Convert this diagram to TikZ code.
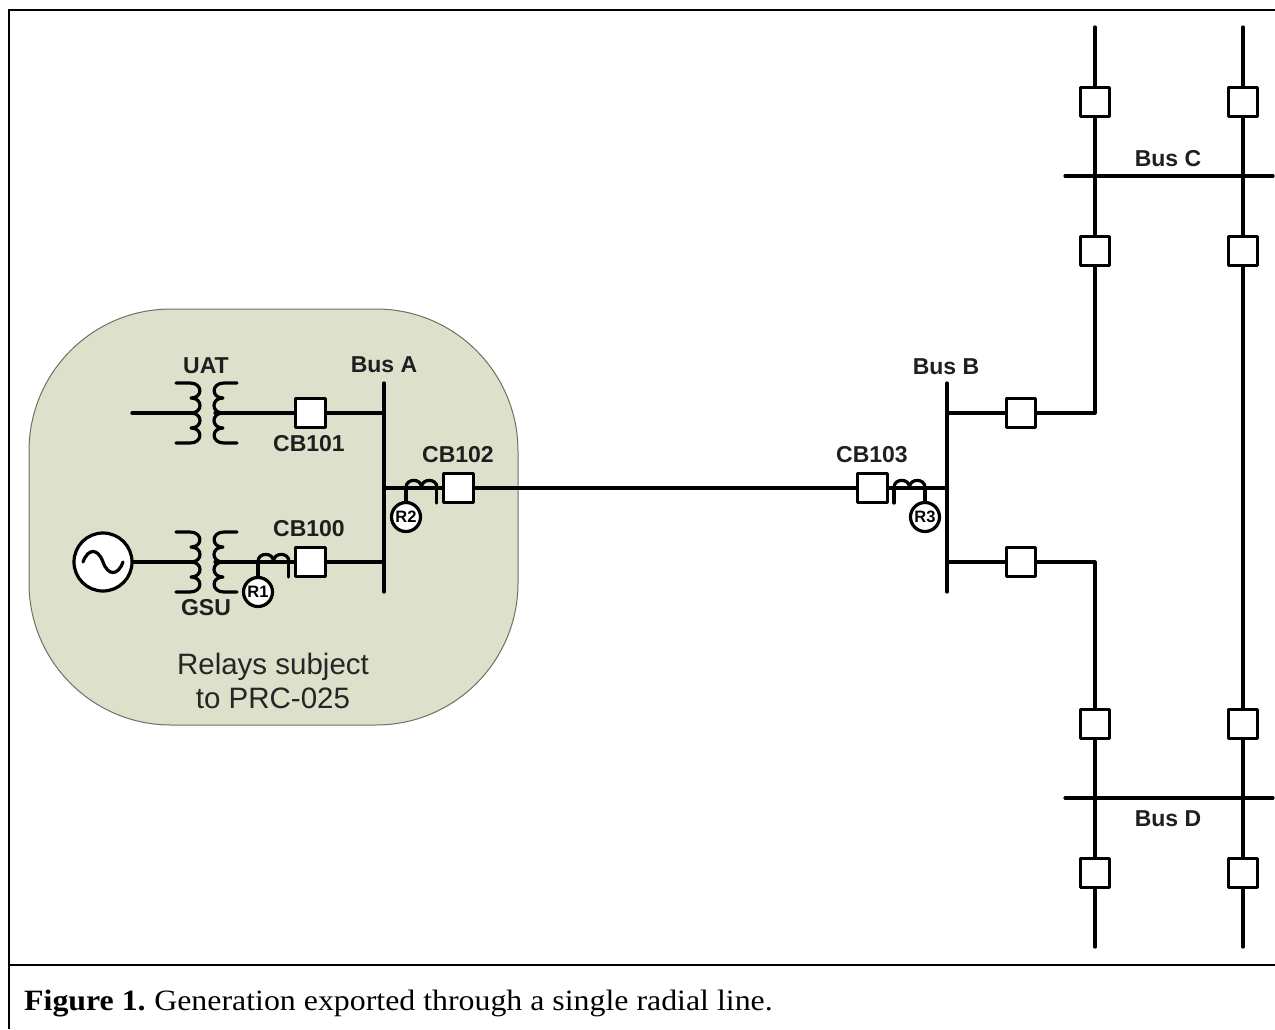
\documentclass[tikz,border=0pt]{standalone}
\usepackage{fontspec}
\setmainfont[FakeStretch=1.08]{Liberation Serif}
\setsansfont{Liberation Sans}
\definecolor{blobfill}{HTML}{DDE0CA}
\definecolor{blobedge}{HTML}{6E6F66}
\tikzset{
  wire/.style={line width=3.2pt,line cap=round,line join=round,black},
  frameline/.style={line width=2pt,black},
  breaker/.style={draw=black,line width=3.2pt,fill=white,minimum size=29.5pt,inner sep=0pt,line join=round},
  relay/.style={circle,draw=black,line width=3.2pt,fill=white,minimum size=29pt,inner sep=0pt,font=\sffamily\bfseries\fontsize{16.5}{16}\selectfont},
  gen/.style={circle,draw=black,line width=3.2pt,fill=white,minimum size=58pt,inner sep=0pt},
  lab/.style={inner sep=0pt,font=\sffamily\bfseries\fontsize{23}{23}\selectfont,text=black!88},
  note/.style={inner sep=0pt,align=center,font=\sffamily\fontsize{29.5}{34}\selectfont,text=black!85},
  caption/.style={inner sep=0pt,anchor=base west,font=\fontsize{29.5}{29}\selectfont},
  pics/xformer/.style={code={
    \draw[wire] (-30,-30) -- (-16,-30)
      .. controls (-3,-30) and (-3,-15) .. (-15,-15)
      .. controls (-3,-15) and (-3,0) .. (-15,0)
      .. controls (-3,0) and (-3,15) .. (-15,15)
      .. controls (-3,15) and (-3,30) .. (-16,30) -- (-30,30);
    \draw[wire] (31,-30) -- (18,-30)
      .. controls (5,-30) and (5,-15) .. (17,-15)
      .. controls (5,-15) and (5,0) .. (17,0)
      .. controls (5,0) and (5,15) .. (17,15)
      .. controls (5,15) and (5,30) .. (18,30) -- (31,30);
  }},
  pics/ctcoil/.style={code={
    \draw[wire] (0,0) .. controls (0,-9.5) and (15.5,-9.5) .. (15.5,0)
      .. controls (15.5,-9.5) and (31,-9.5) .. (31,0);
  }}
}
\begin{document}
\begin{tikzpicture}[x=1pt,y=-1pt]
\useasboundingbox (0,0) rectangle (1275,1029);
% frame
\coordinate (fTL) at (9,10);
\coordinate (fTR) at (1275,10);
\coordinate (fBL) at (9,1029);
\coordinate (fML) at (9,965);
\coordinate (fMR) at (1275,965);
\draw[frameline] (fBL) -- (fTL) -- (fTR);
\draw[frameline] (fML) -- (fMR);
% shaded region
\draw[fill=blobfill,draw=blobedge,line width=1pt,rounded corners=142pt] (29,309) rectangle (518,725);
% bus coordinates
\coordinate (busAt) at (384,383);
\coordinate (busAb) at (384,592);
\coordinate (busBt) at (947,383);
\coordinate (busBb) at (947,592);
\coordinate (busCl) at (1065,176);
\coordinate (busCr) at (1273,176);
\coordinate (busDl) at (1065,798);
\coordinate (busDr) at (1273,798);
% breakers
\node[breaker] (cb101) at (310.5,413) {};
\node[breaker] (cb100) at (310.5,562) {};
\node[breaker] (cb102) at (458.5,488) {};
\node[breaker] (cb103) at (872.5,488) {};
\node[breaker] (cbBu) at (1021,413) {};
\node[breaker] (cbBl) at (1021,562) {};
\node[breaker] (c1) at (1095,102) {};
\node[breaker] (c2) at (1243,102) {};
\node[breaker] (c3) at (1095,251) {};
\node[breaker] (c4) at (1243,251) {};
\node[breaker] (d1) at (1095,724) {};
\node[breaker] (d2) at (1243,724) {};
\node[breaker] (d3) at (1095,873) {};
\node[breaker] (d4) at (1243,873) {};
% source and transformers
\node[gen] (g) at (103,562) {};
\coordinate (sS) at (83,562);
\coordinate (sE) at (123,562);
\draw[wire] (sS) .. controls (88,548) and (98,548) .. (103,562) .. controls (108,576) and (118,576) .. (sE);
\pic at (206,413) {xformer};
\pic at (206,562) {xformer};
\coordinate (uatIn) at (132,413);
\coordinate (uatP) at (195,413);
\coordinate (uatS) at (215,413);
\coordinate (gsuP) at (195,562);
\coordinate (gsuS) at (215,562);
% connectors
\draw[wire] (uatIn) -- (uatP);
\draw[wire] (uatS) -- (cb101.west);
\draw[wire] (cb101.east) -- (cb101.east -| busAt);
\draw[wire] (g.east) -- (gsuP);
\draw[wire] (gsuS) -- (cb100.west);
\draw[wire] (cb100.east) -- (cb100.east -| busAt);
\draw[wire] (cb102.west -| busAt) -- (cb102.west);
\draw[wire] (cb102.east) -- (cb103.west);
\draw[wire] (cb103.east) -- (cb103.east -| busBt);
\draw[wire] (cbBu.west -| busBt) -- (cbBu.west);
\draw[wire] (cbBl.west -| busBt) -- (cbBl.west);
\draw[wire] (busAt) -- (busAb);
\draw[wire] (busBt) -- (busBb);
\draw[wire] (busCl) -- (busCr);
\draw[wire] (busDl) -- (busDr);
% feeders
\coordinate (topL) at (1095,27);
\coordinate (topR) at (1243,27);
\coordinate (botL) at (1095,947);
\coordinate (botR) at (1243,947);
\draw[wire] (topL) -- (c1.north);
\draw[wire] (c1.south) -- (c3.north);
\draw[wire] (c3.south) |- (cbBu.east);
\draw[wire] (topR) -- (c2.north);
\draw[wire] (c2.south) -- (c4.north);
\draw[wire] (c4.south) -- (d2.north);
\draw[wire] (cbBl.east) -| (d1.north);
\draw[wire] (d1.south) -- (d3.north);
\draw[wire] (d3.south) -- (botL);
\draw[wire] (d2.south) -- (d4.north);
\draw[wire] (d4.south) -- (botR);
% relays and current transformers
\node[relay] (r1) at (258,592) {R1};
\node[relay] (r2) at (406,517) {R2};
\node[relay] (r3) at (925,517) {R3};
\pic at (258,561.5) {ctcoil};
\pic at (406,487.5) {ctcoil};
\pic at (894,487.5) {ctcoil};
\coordinate (ct1a) at (258,561.5);
\coordinate (ct1b) at (288.5,561.5);
\coordinate (ct1c) at (288.5,577);
\coordinate (ct2a) at (406,487.5);
\coordinate (ct2b) at (436.5,487.5);
\coordinate (ct2c) at (436.5,503);
\coordinate (ct3a) at (925,487.5);
\coordinate (ct3b) at (894,487.5);
\coordinate (ct3c) at (894,503);
\draw[wire] (ct1a) -- (r1.north);
\draw[wire] (ct1b) -- (ct1c);
\draw[wire] (ct2a) -- (r2.north);
\draw[wire] (ct2b) -- (ct2c);
\draw[wire] (ct3a) -- (r3.north);
\draw[wire] (ct3b) -- (ct3c);
% labels
\node[lab] (lUAT) at (206,366) {UAT};
\node[lab] (lGSU) at (206,607.5) {GSU};
\node[lab] (lA) at (384,365) {Bus A};
\node[lab] (lB) at (946,367) {Bus B};
\node[lab] (lC) at (1168,159) {Bus C};
\node[lab] (lD) at (1168,819) {Bus D};
\node[lab] (l101) at (309,444) {CB101};
\node[lab] (l100) at (309,529) {CB100};
\node[lab] (l102) at (458,455) {CB102};
\node[lab] (l103) at (872,455) {CB103};
\node[note] (lNote) at (273,681) {Relays subject\\to PRC-025};
\node[caption] (cap) at (24,1010) {\textbf{Figure 1.}\hspace{-2pt} Generation exported through a single radial line.};
\end{tikzpicture}
\end{document}
